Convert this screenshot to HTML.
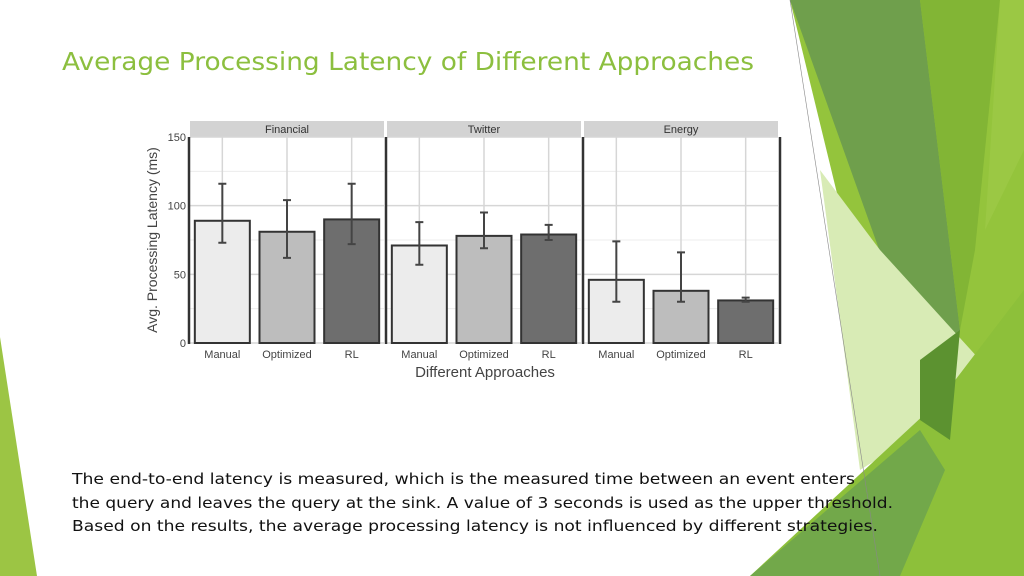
<!DOCTYPE html>
<html><head><meta charset="utf-8"><style>
body{margin:0;width:1024px;height:576px;overflow:hidden;background:#fff}
svg{display:block}
</style></head><body>
<svg id="slide" width="1024" height="576" viewBox="0 0 1024 576" font-family="Liberation Sans, sans-serif">
<g>
<polygon points="0,337 37,576 0,576" fill="#9cc544"/>
<polygon points="790,0 1024,0 1024,576 930,576" fill="#94c43c"/>
<polygon points="790,0 920,0 960,330 940,420" fill="#6f9f4c"/>
<polygon points="920,0 1000,0 975,250 960,330" fill="#82b535"/>
<polygon points="1000,0 1024,0 1024,150 985,230" fill="#9bc844"/>
<polygon points="820,170 880,250 980,360 940,420 860,470" fill="#d8ebb5"/>
<polygon points="750,576 940,400 1024,290 1024,576" fill="#8dc03a"/>
<polygon points="750,576 920,430 945,470 900,576" fill="#72a84a"/>
<polygon points="920,360 960,330 950,440 920,420" fill="#5c9230"/>
<line x1="790" y1="0" x2="880" y2="576" stroke="#888" stroke-width="0.6"/>
</g>
<text x="62" y="70" font-family="DejaVu Sans, sans-serif" font-size="25" fill="#8cbf3f" textLength="692" lengthAdjust="spacingAndGlyphs">Average Processing Latency of Different Approaches</text>
<g id="chart"></g>
<g font-family="DejaVu Sans, sans-serif" font-size="15" fill="#111">
<text x="72" y="484" textLength="783" lengthAdjust="spacingAndGlyphs">The end-to-end latency is measured, which is the measured time between an event enters</text>
<text x="72" y="508" textLength="821" lengthAdjust="spacingAndGlyphs">the query and leaves the query at the sink. A value of 3 seconds is used as the upper threshold.</text>
<text x="72" y="531" textLength="806" lengthAdjust="spacingAndGlyphs">Based on the results, the average processing latency is not influenced by different strategies.</text>
</g>
</svg>
<script>
const panels = ['Financial','Twitter','Energy'];
const approaches = ['Manual','Optimized','RL'];
const financialValues = [89, 81, 90];
const financialLow = [73, 62, 72];
const financialHigh = [116, 104, 116];
const twitterValues = [71, 78, 79];
const twitterLow = [57, 69, 75];
const twitterHigh = [88, 95, 86];
const energyValues = [46, 38, 31];
const energyLow = [30, 30, 30];
const energyHigh = [74, 66, 33];
const yTicks = [0, 50, 100, 150];
const yMinor = [25, 75, 125];

const NS='http://www.w3.org/2000/svg';
const chart=document.getElementById('chart');
const fills=['#ececec','#bdbdbd','#6e6e6e'];
const y0=343, y1=137, vmax=150;
const yScale=v=>y0-(v/vmax)*(y0-y1);
const panelLeft=[190,387,584], panelW=194;
const xBand=(p,i)=>panelLeft[p]+panelW*(i+0.5)/3;
const bw=55;
function mk(tag,attrs,parent){const e=document.createElementNS(NS,tag);for(const k in attrs)e.setAttribute(k,attrs[k]);(parent||chart).appendChild(e);return e;}
const vals=[financialValues,twitterValues,energyValues];
const lows=[financialLow,twitterLow,energyLow];
const highs=[financialHigh,twitterHigh,energyHigh];

panels.forEach((name,p)=>{
  const L=panelLeft[p];
  const strip=mk('rect',{x:L,y:121,width:panelW,height:16,fill:'#d3d3d3'});
  
  
  const st=mk('text',{x:L+panelW/2,y:133,'text-anchor':'middle','font-size':11,fill:'#333'});
  st.textContent=name;
  
  
  yMinor.forEach(v=>{const g=mk('line',{x1:L,x2:L+panelW,y1:yScale(v),y2:yScale(v),stroke:'#ececec','stroke-width':1});
    
    });
  yTicks.forEach(v=>{const g=mk('line',{x1:L,x2:L+panelW,y1:yScale(v),y2:yScale(v),stroke:'#d6d6d6','stroke-width':1.5});
    
    });
  approaches.forEach((a,i)=>{const g=mk('line',{x1:xBand(p,i),x2:xBand(p,i),y1:137,y2:343,stroke:'#d6d6d6','stroke-width':1.5});
    
    });
  const ax=mk('line',{x1:L-1,x2:L-1,y1:137,y2:344,stroke:'#333','stroke-width':2.5});
  
  
  approaches.forEach((a,i)=>{
    const cx=xBand(p,i), v=vals[p][i];
    const b=mk('rect',{x:cx-bw/2,y:yScale(v),width:bw,height:yScale(0)-yScale(v),fill:fills[i],stroke:'#333','stroke-width':2});
    
    
    const e=mk('path',{d:`M${cx},${yScale(lows[p][i])}V${yScale(highs[p][i])}M${cx-4},${yScale(lows[p][i])}H${cx+4}M${cx-4},${yScale(highs[p][i])}H${cx+4}`,stroke:'#444','stroke-width':2,fill:'none'});
    
    
    const t=mk('text',{x:cx,y:358,'text-anchor':'middle','font-size':11,fill:'#444'});
    t.textContent=a;
    
    
  });
});
const rax=mk('line',{x1:780,x2:780,y1:137,y2:344,stroke:'#333','stroke-width':2.5});


yTicks.forEach(v=>{
  const t=mk('text',{x:186,y:yScale(v)+4,'text-anchor':'end','font-size':11,fill:'#444'});
  t.textContent=v;
  
  
});
const yt=mk('text',{x:0,y:0,transform:'translate(157,240) rotate(-90)','text-anchor':'middle','font-size':14,fill:'#444'});
yt.textContent='Avg. Processing Latency (ms)';


const xt=mk('text',{x:485,y:377,'text-anchor':'middle','font-size':15,fill:'#444'});
xt.textContent='Different Approaches';


</script>
</body></html>
